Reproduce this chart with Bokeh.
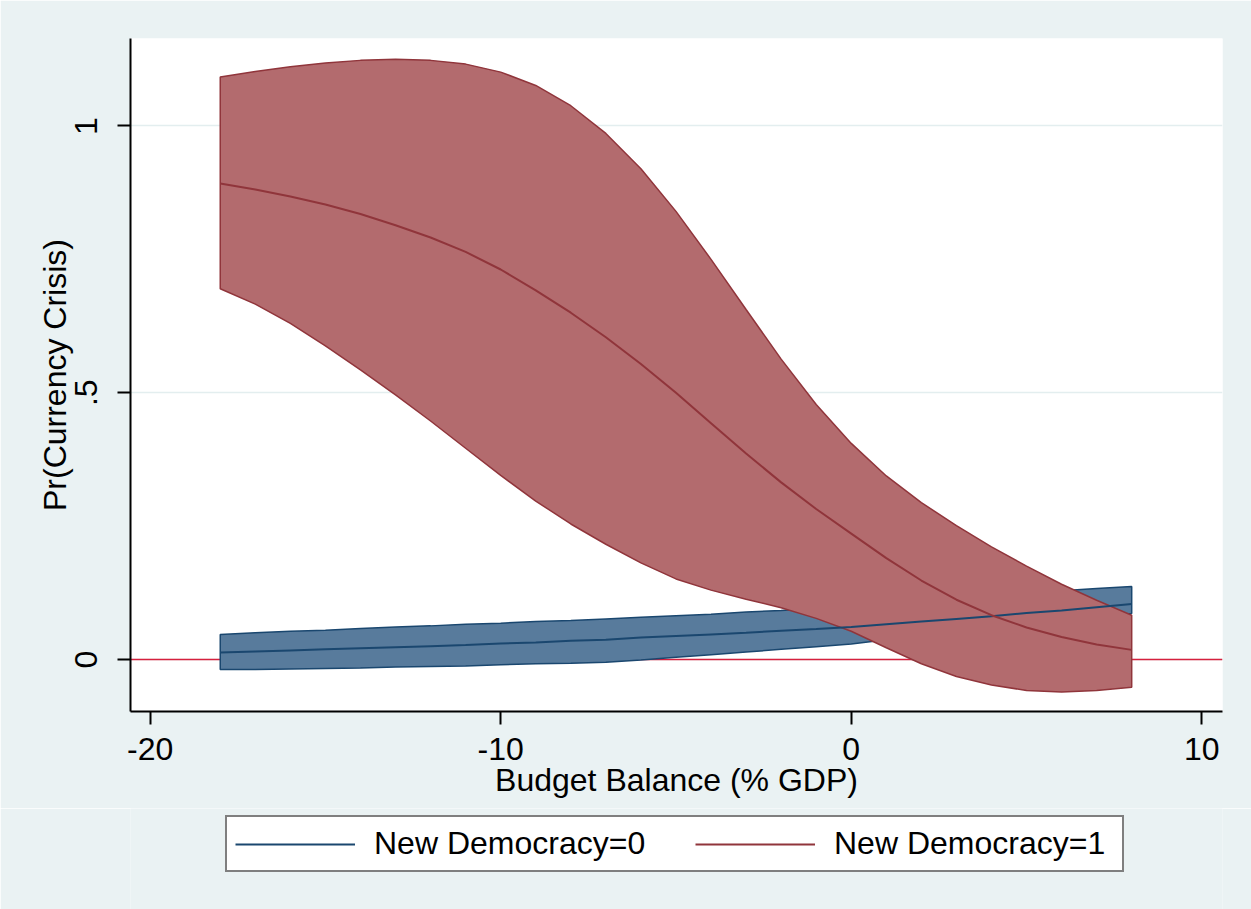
from bokeh.plotting import figure
from bokeh.layouts import column
from bokeh.models import Range1d, FixedTicker, Legend, LegendItem, Span
from bokeh.embed import file_html
from bokeh.resources import INLINE

# Budget balance (% GDP)
budget = list(range(-18, 9))

# New Democracy = 0 : predicted probability and 95% CI
nd0_mean = [0.013, 0.015, 0.017, 0.019, 0.021, 0.023, 0.025, 0.027, 0.030, 0.032,
            0.035, 0.037, 0.041, 0.044, 0.047, 0.050, 0.054, 0.057, 0.061, 0.066,
            0.071, 0.076, 0.081, 0.087, 0.092, 0.098, 0.104]
nd0_hi = [0.047, 0.050, 0.053, 0.055, 0.058, 0.061, 0.063, 0.066, 0.068, 0.071,
          0.073, 0.076, 0.079, 0.082, 0.085, 0.089, 0.092, 0.096, 0.100, 0.104,
          0.109, 0.114, 0.120, 0.125, 0.129, 0.133, 0.137]
nd0_lo = [-0.019, -0.019, -0.018, -0.017, -0.016, -0.014, -0.013, -0.012, -0.010, -0.008,
          -0.007, -0.005, -0.001, 0.004, 0.009, 0.014, 0.019, 0.024, 0.029, 0.037,
          0.045, 0.053, 0.060, 0.067, 0.073, 0.080, 0.086]

# New Democracy = 1 : predicted probability and 95% CI
nd1_mean = [0.892, 0.881, 0.868, 0.853, 0.835, 0.814, 0.791, 0.764, 0.731, 0.692,
            0.650, 0.604, 0.554, 0.500, 0.443, 0.386, 0.332, 0.282, 0.236, 0.190,
            0.148, 0.112, 0.083, 0.060, 0.042, 0.028, 0.018]
nd1_hi = [1.092, 1.102, 1.111, 1.118, 1.123, 1.125, 1.123, 1.116, 1.101, 1.076,
          1.038, 0.986, 0.920, 0.840, 0.750, 0.656, 0.563, 0.478, 0.405, 0.344,
          0.294, 0.251, 0.211, 0.175, 0.141, 0.111, 0.083]
nd1_lo = [0.695, 0.666, 0.630, 0.588, 0.543, 0.496, 0.447, 0.396, 0.345, 0.297,
          0.254, 0.216, 0.181, 0.151, 0.130, 0.113, 0.097, 0.077, 0.053, 0.022,
          -0.008, -0.032, -0.048, -0.058, -0.061, -0.058, -0.052]

series_labels = ["New Democracy=0", "New Democracy=1"]
x_ticks = [-20, -10, 0, 10]
x_tick_labels = {-20: "-20", -10: "-10", 0: "0", 10: "10"}
y_ticks = [0, 0.5, 1]
y_tick_labels = {0: "0", 0.5: ".5", 1: "1"}

BG = "#EAF2F3"
BLUE_FILL = "#587B9C"
BLUE_LINE = "#1A476F"
RED_FILL = "#B36B6E"
RED_LINE = "#90353B"
ZERO = "#D6203E"
FONT = "Liberation Sans"
FS = "32px"

p = figure(width=1251, height=808, output_backend="svg", toolbar_location=None,
           x_range=Range1d(-20.56, 10.59), y_range=Range1d(-0.0975, 1.164),
           min_border_left=130, min_border_right=29, min_border_top=38,
           min_border_bottom=97)
p.background_fill_color = "white"
p.border_fill_color = BG
p.outline_line_color = None

# grid
p.xgrid.visible = False
p.ygrid.ticker = FixedTicker(ticks=y_ticks)
p.ygrid.grid_line_color = "#E3EEEF"
p.ygrid.grid_line_width = 1.5

# zero line beneath the bands
p.add_layout(Span(location=0, dimension="width", line_color=ZERO,
                  line_width=1.5, level="underlay"))

def band(lo, hi):
    xs = budget + budget[::-1] + [budget[0]]
    ys = hi + lo[::-1] + [hi[0]]
    return xs, ys

bx, by = band(nd0_lo, nd0_hi)
p.patch(bx, by, fill_color=BLUE_FILL, fill_alpha=1, line_color=BLUE_LINE, line_width=1.5)
rx, ry = band(nd1_lo, nd1_hi)
p.patch(rx, ry, fill_color=RED_FILL, fill_alpha=1, line_color=RED_LINE, line_width=1.5)

p.line(budget, nd0_mean, line_color=BLUE_LINE, line_width=2)
p.line(budget, nd1_mean, line_color=RED_LINE, line_width=2)

# axes
for ax in (p.xaxis[0], p.yaxis[0]):
    ax.axis_line_color = "black"
    ax.axis_line_width = 2
    ax.major_tick_line_color = "black"
    ax.major_tick_line_width = 2
    ax.major_tick_out = 13
    ax.major_tick_in = 0
    ax.minor_tick_line_color = None
    ax.major_label_text_font = FONT
    ax.major_label_text_font_size = FS
    ax.major_label_text_color = "black"
    ax.axis_label_text_font = FONT
    ax.axis_label_text_font_size = FS
    ax.axis_label_text_font_style = "normal"
    ax.axis_label_text_color = "black"

p.xaxis.ticker = FixedTicker(ticks=x_ticks)
p.xaxis.major_label_overrides = x_tick_labels
p.xaxis.axis_label = "Budget Balance (% GDP)"
p.xaxis.major_label_standoff = 13
p.xaxis.axis_label_standoff = -1

p.yaxis.ticker = FixedTicker(ticks=y_ticks)
p.yaxis.major_label_overrides = y_tick_labels
p.yaxis.major_label_orientation = "vertical"
p.yaxis.axis_label = "Pr(Currency Crisis)"
p.yaxis.major_label_standoff = 20
p.yaxis.axis_label_standoff = 0

# legend strip below the plot (its own small canvas so the box is not clipped)
lg = figure(width=1251, height=101, output_backend="svg", toolbar_location=None,
            x_axis_type=None, y_axis_type=None,
            x_range=Range1d(100, 101), y_range=Range1d(100, 101),
            min_border_left=130, min_border_right=29, min_border_top=0,
            min_border_bottom=0)
lg.background_fill_color = BG
lg.border_fill_color = BG
lg.outline_line_color = None
lg.grid.visible = False
k0 = lg.line(budget, nd0_mean, line_color=BLUE_LINE, line_width=2)
k1 = lg.line(budget, nd1_mean, line_color=RED_LINE, line_width=2)

legend = Legend(items=[LegendItem(label=series_labels[0], renderers=[k0]),
                       LegendItem(label=series_labels[1], renderers=[k1])],
                location=(95, 37), orientation="horizontal")
legend.border_line_color = "black"
legend.border_line_width = 2
legend.background_fill_color = "white"
legend.background_fill_alpha = 1
legend.label_text_font = FONT
legend.label_text_font_size = FS
legend.label_text_color = "black"
legend.label_width = 280
legend.glyph_width = 120
legend.glyph_height = 20
legend.label_standoff = 19
legend.spacing = 41
legend.padding = 8
legend.margin = 0
lg.add_layout(legend, "center")

layout = column(p, lg, spacing=0)
open("out.html", "w").write(file_html(layout, INLINE))
